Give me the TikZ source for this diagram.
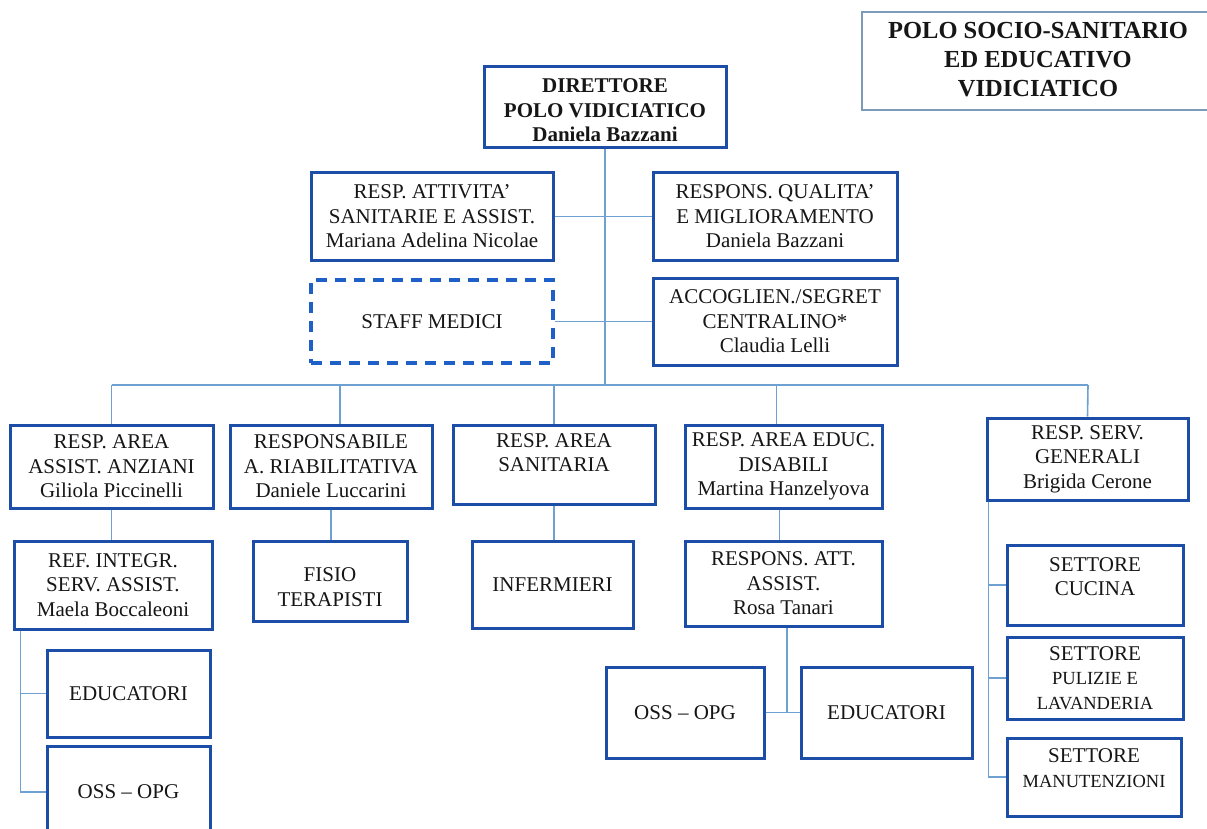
\documentclass[tikz,border=0pt]{standalone}
\usepackage{fontspec}
\setmainfont{Liberation Serif}
\definecolor{boxblue}{RGB}{28,78,168}
\definecolor{dashblue}{RGB}{30,95,200}
\definecolor{linkblue}{RGB}{110,160,210}
\definecolor{titleline}{RGB}{125,155,185}
\definecolor{ink}{RGB}{22,22,22}
\newcommand{\liftlines}[2]{\raisebox{#1}[\height][\depth]{\begin{tabular}{@{}c@{}}#2\end{tabular}}}
\begin{document}
\begin{tikzpicture}[x=1pt,y=-1pt,
  orgbox/.style={draw=boxblue,line width=3pt,rectangle,inner sep=0pt,align=center,text=ink,
    font=\fontsize{21}{24.5}\selectfont},
  dashbox/.style={orgbox,draw=dashblue,line width=3.5pt,dash pattern=on 11pt off 8pt},
  titlebox/.style={draw=titleline,line width=1.5pt,rectangle,inner sep=0pt,align=center,text=ink,
    font=\bfseries\fontsize{24.5}{29}\selectfont},
  link/.style={draw=linkblue,line width=1.6pt},
  sz/.style 2 args={minimum width=#1pt,minimum height=#2pt}]
\useasboundingbox (0,0) rectangle (1207,829);
\fill[white] (0,0) rectangle (1207,829);

\node[titlebox,sz={352}{98}] (title) at (1038,61) {\liftlines{-1pt}{POLO SOCIO-SANITARIO\\ED EDUCATIVO\\VIDICIATICO}};

\node[orgbox,sz={242}{81},font=\bfseries\fontsize{21}{24.5}\selectfont] (dir) at (605,107.5) {\liftlines{-5pt}{DIRETTORE\\POLO VIDICIATICO\\Daniela Bazzani}};
\node[orgbox,sz={242}{87}] (attiv) at (432,216.5) {RESP. ATTIVITA'\\SANITARIE E ASSIST.\\Mariana Adelina Nicolae};
\node[orgbox,sz={244}{87}] (qual) at (775,216.5) {RESPONS. QUALITA'\\E MIGLIORAMENTO\\Daniela Bazzani};
\node[dashbox,sz={242}{83}] (staff) at (432,321.5) {STAFF MEDICI};
\node[orgbox,sz={244}{87}] (accog) at (775,321.5) {ACCOGLIEN./SEGRET\\CENTRALINO*\\Claudia Lelli};

\node[orgbox,sz={203}{83}] (anz) at (111.5,466.5) {RESP. AREA\\ASSIST. ANZIANI\\Giliola Piccinelli};
\node[orgbox,sz={202}{83}] (riab) at (331,466.5) {RESPONSABILE\\A. RIABILITATIVA\\Daniele Luccarini};
\node[orgbox,sz={202}{79}] (sanit) at (554,464.5) {\liftlines{10pt}{RESP. AREA\\SANITARIA}};
\node[orgbox,sz={197}{83}] (educ) at (783.5,466.5) {RESP. AREA EDUC.\\DISABILI\\Martina Hanzelyova};
\node[orgbox,sz={201}{82}] (serv) at (1087.5,459) {RESP. SERV.\\GENERALI\\Brigida Cerone};

\node[orgbox,sz={198}{88}] (ref) at (113,585) {REF. INTEGR.\\SERV. ASSIST.\\Maela Boccaleoni};
\node[orgbox,sz={154}{80}] (fisio) at (330,581) {\liftlines{-8pt}{FISIO\\TERAPISTI}};
\node[orgbox,sz={161}{87}] (inferm) at (552.5,584.5) {INFERMIERI};
\node[orgbox,sz={197}{85}] (respatt) at (783.5,583.5) {RESPONS. ATT.\\ASSIST.\\Rosa Tanari};
\node[orgbox,sz={158}{91}] (oss2) at (685,712.5) {OSS -- OPG};
\node[orgbox,sz={171}{91}] (edu2) at (886.5,712.5) {EDUCATORI};
\node[orgbox,sz={163}{87}] (edu1) at (128.5,693.5) {EDUCATORI};
\node[orgbox,sz={163}{92}] (oss1) at (128.5,792) {OSS -- OPG};

\node[orgbox,sz={176}{80}] (cucina) at (1095,585) {\liftlines{6.5pt}{SETTORE\\CUCINA}};
\node[orgbox,sz={176}{82}] (pulizie) at (1095,678) {SETTORE\\{\fontsize{18.5}{21.5}\selectfont PULIZIE E}\\{\fontsize{18.5}{21.5}\selectfont LAVANDERIA}};
\node[orgbox,sz={174}{78}] (manut) at (1094,777) {\liftlines{7pt}{SETTORE\\{\fontsize{18.5}{22}\selectfont MANUTENZIONI}}};

% connectors
\coordinate (busL) at (111.5,385);
\coordinate (busR) at (1088,385);
\draw[link] (dir.south) -- (dir.south |- busL);
\draw[link] (attiv.east) -- (qual.west);
\draw[link] (staff.east) -- (accog.west);
\draw[link] (busL) -- (busR);
\draw[link] (anz.north) -- (busL);
\draw[link] ([xshift=9pt]riab.north) -- ([xshift=9pt]riab.north |- busL);
\draw[link] (sanit.north) -- (sanit.north |- busL);
\draw[link] ([xshift=-7pt]educ.north) -- ([xshift=-7pt]educ.north |- busL);
\draw[link] (serv.north) -- (busR);

\draw[link] (anz.south) -- (anz.south |- ref.north);
\draw[link] (riab.south) -- (riab.south |- fisio.north);
\draw[link] (sanit.south) -- (sanit.south |- inferm.north);
\draw[link] ([xshift=-4pt]educ.south) -- ([xshift=-4pt]educ.south |- respatt.north);
\coordinate (rj) at ([xshift=3.5pt]respatt.south);
\draw[link] (rj) -- (rj |- oss2.east);
\draw[link] (oss2.east) -- (edu2.west);

\coordinate (L0) at ([xshift=8pt]ref.south west);
\draw[link] (L0) |- (edu1.west);
\draw[link] (L0) |- (oss1.west);

\coordinate (R0) at ([xshift=3pt]serv.south west);
\draw[link] (R0) |- (cucina.west);
\draw[link] (R0) |- (pulizie.west);
\draw[link] (R0) |- (manut.west);
\end{tikzpicture}
\end{document}
